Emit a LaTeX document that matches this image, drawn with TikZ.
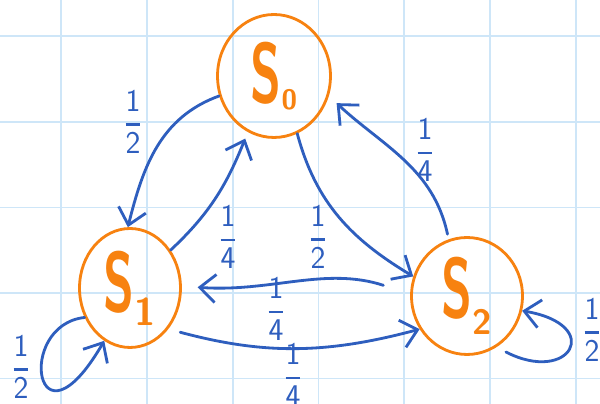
\documentclass[tikz,border=0pt]{standalone}
\usepackage{amsmath}
\usepackage{graphicx}
\usetikzlibrary{shapes.geometric}
\usepgflibrary{arrows.meta}
\definecolor{stateorange}{RGB}{247,130,16}
\definecolor{chainblue}{RGB}{46,94,190}
\definecolor{gridblue}{RGB}{206,230,248}
\newcommand{\pfrac}[2]{$\genfrac{}{}{1.3pt}{0}{\text{#1}}{\text{#2}}$}

\begin{document}
\begin{tikzpicture}
    [x=0.02cm, y=-0.02cm,
    trans/.style={draw=chainblue, line width=1.6pt, line cap=round,
        -{Straight Barb[length=9pt, width=16pt, line width=0pt 1]}},
    state/.style={ellipse, draw=stateorange, line width=1.6pt, inner sep=0pt,
        text=stateorange, font=\sffamily\bfseries\fontsize{48}{52}\selectfont},
    prob/.style={text=chainblue, inner sep=1pt, font=\sffamily\fontsize{18}{20}\selectfont},
    gridline/.style={draw=gridblue, line width=1.1pt}]
        \path[use as bounding box, fill=white] (0,0) rectangle (600,404);
        \clip (0,0) rectangle (600,404);
        % Paper grid
        \foreach \gx in {61,147,233,318.5,404,490,576}
            \draw[gridline] (\gx,0) -- (\gx,404);
        \foreach \gy in {36,122,207.5,293,378.5}
            \draw[gridline] (0,\gy) -- (600,\gy);

        % States
        \node[state, minimum width=2.26cm, minimum height=2.46cm] (s0) at (274,76)
            {\scalebox{0.6}[1]{S}\raisebox{-4pt}{\fontsize{16}{18}\selectfont 0}};
        \node[state, minimum width=2.02cm, minimum height=2.38cm] (s1) at (130,288)
            {\scalebox{0.6}[1]{S}\raisebox{-8pt}{\fontsize{22}{24}\selectfont 1}};
        \node[state, minimum width=2.22cm, minimum height=2.34cm] (s2) at (467,296)
            {\scalebox{0.6}[1]{S}\raisebox{-10pt}{\fontsize{20}{22}\selectfont 2}};

        % Transitions
        \draw[trans] (s0.200) to[out=200, in=76] (s1.92);
        \draw[trans, shorten >=4pt] (s1.43) to[out=43, in=248] (s0.245);
        \draw[trans] (s0.292) to[out=285, in=149] (s2.160);
        \draw[trans, shorten <=3pt, shorten >=6pt] (s2.108) to[out=102, in=317] (s0.340);
        \draw[trans, shorten <=16pt, shorten >=9pt] (s2.178) to[out=162, in=356] (s1.2);
        \draw[trans, shorten <=7pt] (s1.313) to[out=345, in=195] (s2.215);
        \draw[trans] (s1.213) .. controls (15,325) and (35,460) .. (s1.244);
        \draw[trans, shorten <=6pt] (s2.300) .. controls (570,385) and (605,325) .. (s2.345);

        % Probabilities
        \node[prob] (l01) at (133,122) {\pfrac{1}{2}};
        \node[prob] (l10) at (228,237) {\pfrac{1}{4}};
        \node[prob] (l02) at (318,237) {\pfrac{1}{2}};
        \node[prob] (l20) at (425,150) {\pfrac{1}{4}};
        \node[prob] (l21) at (276,309) {\pfrac{1}{4}};
        \node[prob] (l12) at (293,375) {\pfrac{1}{4}};
        \node[prob] (l11) at (21,367) {\pfrac{1}{2}};
        \node[prob] (l22) at (592,330) {\pfrac{1}{2}};
\end{tikzpicture}
\end{document}
